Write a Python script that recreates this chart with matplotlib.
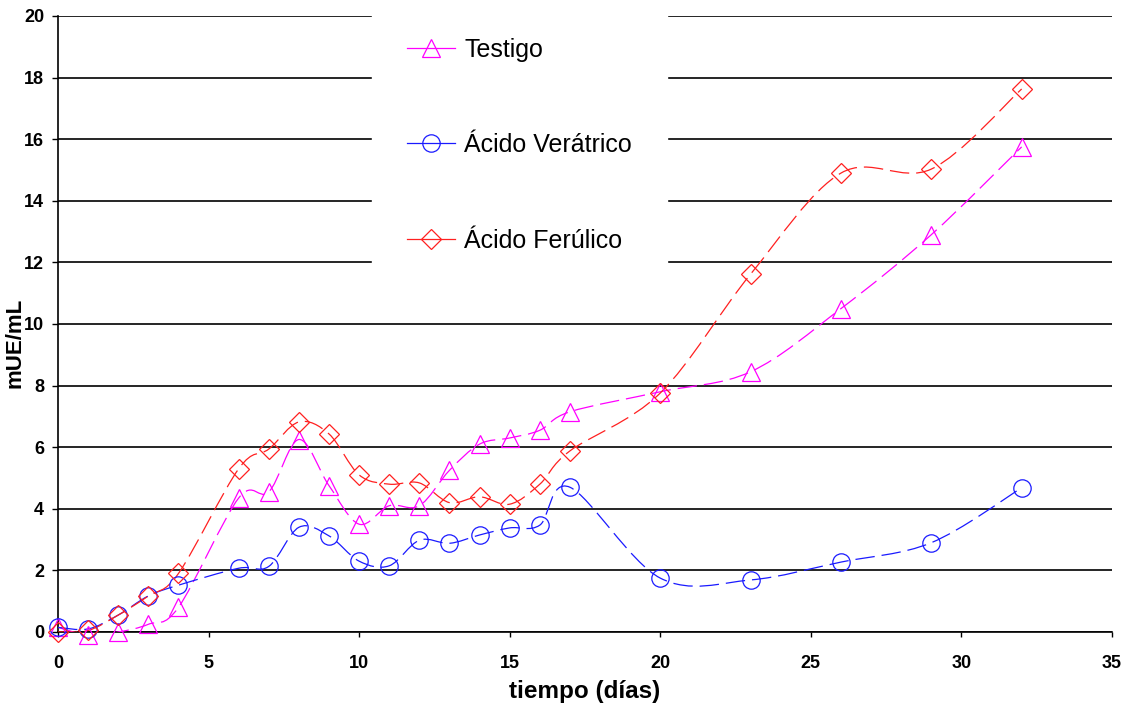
import matplotlib
matplotlib.use("Agg")
import matplotlib.pyplot as plt
import numpy as np
from matplotlib.path import Path
from matplotlib.patches import PathPatch
from matplotlib.lines import Line2D

plt.rcParams['font.family'] = ['Liberation Sans', 'DejaVu Sans']
plt.rcParams['lines.scale_dashes'] = False

dias = [0, 1, 2, 3, 4, 6, 7, 8, 9, 10, 11, 12, 13, 14, 15, 16, 17, 20, 23, 26, 29, 32]
testigo = [0.15, -0.1, 0.0, 0.25, 0.8, 4.35, 4.55, 6.25, 4.75, 3.5, 4.1, 4.1, 5.25, 6.1, 6.3,
           6.55, 7.15, 7.8, 8.45, 10.5, 12.9, 15.75]
veratrico = [0.15, 0.1, 0.55, 1.17, 1.52, 2.07, 2.13, 3.4, 3.12, 2.3, 2.15, 2.98, 2.88, 3.15,
             3.38, 3.47, 4.7, 1.75, 1.69, 2.27, 2.9, 4.68]
ferulico = [0.0, 0.05, 0.55, 1.17, 1.9, 5.3, 5.94, 6.82, 6.43, 5.1, 4.8, 4.84, 4.2, 4.39,
            4.15, 4.8, 5.88, 7.76, 11.62, 14.9, 15.03, 17.63]

series = [
    ("Testigo", testigo, "#ff00ff", "^"),
    ("Ácido Verátrico", veratrico, "#1a1aff", "o"),
    ("Ácido Ferúlico", ferulico, "#ff2020", "D"),
]


def smooth_path(x, y):
    # bezier segments through every point, like a spreadsheet "smoothed line"
    pts = np.column_stack([x, y]).astype(float)
    n = len(pts)
    verts = [pts[0]]
    codes = [Path.MOVETO]
    for i in range(n - 1):
        p0 = pts[i - 1] if i > 0 else pts[i]
        p1, p2 = pts[i], pts[i + 1]
        p3 = pts[i + 2] if i + 2 < n else pts[i + 1]
        verts += [p1 + (p2 - p0) / 6, p2 - (p3 - p1) / 6, p2]
        codes += [Path.CURVE4] * 3
    return Path(verts, codes)


fig = plt.figure(figsize=(11.26, 7.09), dpi=100)
ax = fig.add_axes([58 / 1126, 1 - 632 / 709, (1112 - 58) / 1126, (632 - 16) / 709])

handles = []
for label, vals, color, mk in series:
    ax.add_patch(PathPatch(smooth_path(dias, vals), fill=False, edgecolor=color, lw=0.9,
                           linestyle=(0, (14, 5)), zorder=3))
    ms = 10 if mk == "D" else 12.5
    ax.plot(dias, vals, linestyle="none", marker=mk, markersize=ms,
            markerfacecolor="none", markeredgecolor=color, markeredgewidth=0.9,
            clip_on=False, zorder=4)
    handles.append(Line2D([], [], color=color, lw=0.9, marker=mk, markersize=ms,
                          markerfacecolor="none", markeredgewidth=0.9))

ax.set_xlim(0, 35)
ax.set_ylim(0, 20)
ax.set_xticks(np.arange(0, 36, 5))
ax.set_yticks(np.arange(0, 21, 2))
ax.yaxis.grid(True, color="black", lw=1.2)
ax.set_axisbelow(True)
for s in ["top", "right"]:
    ax.spines[s].set_visible(False)
ax.spines["left"].set_linewidth(1.2)
ax.spines["bottom"].set_linewidth(1.2)
ax.tick_params(axis="y", direction="out", length=4, width=1, pad=6, labelsize=13)
ax.tick_params(axis="x", direction="out", length=3.5, width=1, pad=13, labelsize=13)
for t in ax.get_xticklabels() + ax.get_yticklabels():
    t.set_fontweight("bold")

ax.set_xlabel("tiempo (días)", fontsize=17.5, fontweight="bold", labelpad=6)
ax.set_ylabel("mUE/mL", fontsize=16, fontweight="bold")
ax.yaxis.set_label_coords(-0.031, 0.47)

leg = fig.legend(handles, [s[0] for s in series], loc="upper left",
                 bbox_to_anchor=(372 / 1126, 1 - 2.5 / 709), bbox_transform=fig.transFigure,
                 fontsize=18, frameon=True, fancybox=False, facecolor="white",
                 edgecolor="white", framealpha=1, borderpad=1.4, labelspacing=2.86,
                 handlelength=1.9, handletextpad=0.4, borderaxespad=0)
leg.set_zorder(5)

fig.savefig("out.png", dpi=100)
